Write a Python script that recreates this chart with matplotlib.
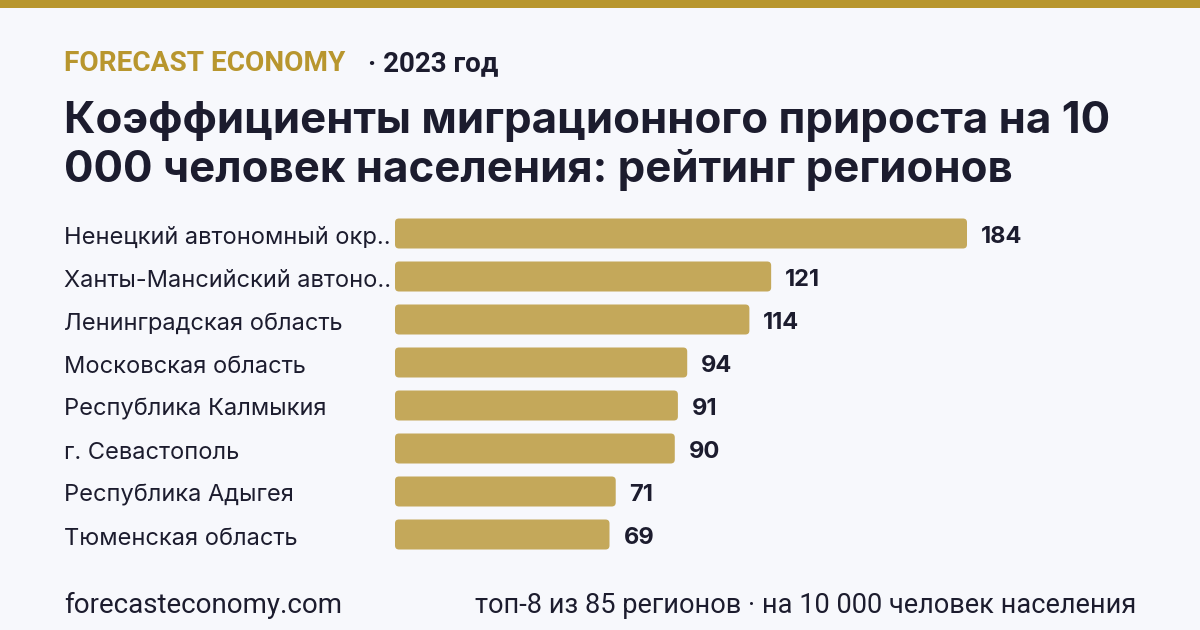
import matplotlib
matplotlib.use("Agg")
import matplotlib.pyplot as plt
import matplotlib.transforms as mtransforms
from matplotlib.patches import FancyBboxPatch

# data
regions = [
    "Ненецкий автономный окр..",
    "Ханты-Мансийский автоно..",
    "Ленинградская область",
    "Московская область",
    "Республика Калмыкия",
    "г. Севастополь",
    "Республика Адыгея",
    "Тюменская область",
]
values = [184, 121, 114, 94, 91, 90, 71, 69]

BG = "#f7f8fc"
GOLD = "#b8962e"
BAR = "#c4a85a"
DARK = "#1c1c2e"

plt.rcParams["font.family"] = ["Inter", "DejaVu Sans"]

W, H = 1200, 630
fig = plt.figure(figsize=(12, 6.3), dpi=100)
fig.patch.set_facecolor(BG)

def px(x, y):
    # pixel coords (from top-left) -> figure fraction
    return x / W, 1 - y / H

# gold strip on top
fig.patches.append(plt.Rectangle((0, 1 - 8 / H), 1, 8 / H, transform=fig.transFigure,
                                 facecolor=GOLD, edgecolor="none"))

# header
fig.text(*px(64, 71), "FORECAST ECONOMY", color=GOLD, fontsize=20.2, fontweight="bold",
         family=["Roboto", "DejaVu Sans"], va="baseline")
fig.text(*px(368, 71), "· 2023 год", color=DARK, fontsize=20, fontweight="bold",
         family=["Roboto", "DejaVu Sans"], va="baseline")

# title
fig.text(*px(64, 133), "Коэффициенты миграционного прироста на 10", color=DARK,
         fontsize=31.5, fontweight="bold", va="baseline")
fig.text(*px(64, 182), "000 человек населения: рейтинг регионов", color=DARK,
         fontsize=31.5, fontweight="bold", va="baseline")

# axes for the bars
x0, x1 = 395, 1136
ytop, ybot = 212, 556
scale = (967 - 395) / 184.0  # px per unit
slot = (ybot - ytop) / len(values)
ax = fig.add_axes([x0 / W, 1 - ybot / H, (x1 - x0) / W, (ybot - ytop) / H])
ax.set_facecolor("none")
ax.set_xlim(0, (x1 - x0) / scale)
ax.set_ylim(len(values) - 0.5, -0.5)
ax.axis("off")

bar_h = 30 / slot
r = 4 / scale
for i, v in enumerate(values):
    ax.add_patch(FancyBboxPatch((0, i - bar_h / 2), v, bar_h,
                                boxstyle="round,pad=0,rounding_size=%f" % r,
                                mutation_aspect=(4 / slot) / r,
                                facecolor=BAR, edgecolor="none", zorder=2))
    ax.annotate(str(v), (v, i), xytext=(10, -2.5), textcoords="offset points",
                va="center", ha="left", fontsize=17, fontweight="bold", color=DARK)

trans = mtransforms.blended_transform_factory(fig.transFigure, ax.transData)
for i, name in enumerate(regions):
    ax.text(64 / W, i + 0.1, name, transform=trans, va="center", ha="left",
            fontsize=17, color=DARK, zorder=1)

# footer
fig.text(*px(64, 613), "forecasteconomy.com", color=DARK, fontsize=20,
         family=["Roboto", "DejaVu Sans"], va="baseline")
fig.text(*px(1136, 613), "топ-8 из 85 регионов · на 10 000 человек населения", color=DARK,
         fontsize=19.5, family=["Roboto", "DejaVu Sans"], va="baseline", ha="right")

fig.savefig("out.png", dpi=100, facecolor=BG)
